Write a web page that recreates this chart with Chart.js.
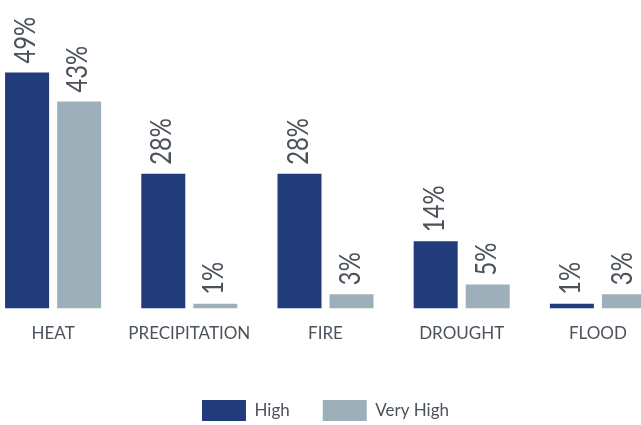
<!DOCTYPE html>
<html>
<head>
<meta charset="utf-8">
<script src="https://cdn.jsdelivr.net/npm/chart.js@4/dist/chart.umd.min.js"></script>
<style>
    html, body { margin: 0; padding: 0; background: #fff; overflow: hidden; }
    body { width: 641px; height: 425px; position: relative; }
    /* canvas runs a little past the page edges so the outer groups sit near the border */
    #wrap { position: absolute; left: -15px; top: 0; width: 681px; height: 431px; }
</style>
</head>
<body>
<div id="wrap"><canvas id="risk-chart"></canvas></div>
<script>
var categories = ['HEAT', 'PRECIPITATION', 'FIRE', 'DROUGHT', 'FLOOD'];
var highValues = [49, 28, 28, 14, 1];
var veryHighValues = [43, 1, 3, 5, 3];
var seriesNames = ['High', 'Very High'];

var textColor = '#4b525b';

// writes the percentage upright above each bar, slightly condensed
var barValueLabels = {
    id: 'barValueLabels',
    afterDatasetsDraw: function (chart) {
        var ctx = chart.ctx;
        ctx.save();
        ctx.fillStyle = textColor;
        ctx.font = '28px Lato';
        ctx.textAlign = 'left';
        ctx.textBaseline = 'middle';
        chart.data.datasets.forEach(function (ds, i) {
            var meta = chart.getDatasetMeta(i);
            meta.data.forEach(function (bar, j) {
                ctx.save();
                ctx.translate(bar.x - 1, bar.y - 9);
                ctx.rotate(-Math.PI / 2);
                ctx.scale(0.85, 1);
                ctx.fillText(ds.data[j] + '%', 0, 0);
                ctx.restore();
            });
        });
        ctx.restore();
    }
};

new Chart(document.getElementById('risk-chart').getContext('2d'), {
    type: 'bar',
    data: {
        labels: categories,
        datasets: [
            {
                label: seriesNames[0],
                data: highValues,
                backgroundColor: '#223b7b'
            },
            {
                label: seriesNames[1],
                data: veryHighValues,
                backgroundColor: '#9db0ba'
            }
        ]
    },
    options: {
        responsive: true,
        maintainAspectRatio: false,
        animation: false,
        layout: {
            padding: { top: 10, left: 0, right: 0, bottom: 0 }
        },
        datasets: {
            bar: {
                categoryPercentage: 0.764,
                barPercentage: 0.846
            }
        },
        scales: {
            x: {
                grid: { display: false },
                border: { display: false },
                ticks: {
                    color: textColor,
                    font: { family: 'Lato', size: 17 },
                    padding: 7,
                    maxRotation: 0,
                    autoSkip: false
                },
                afterFit: function (scale) {
                    scale.height += 16;
                }
            },
            y: {
                display: false,
                min: 0,
                max: 62
            }
        },
        plugins: {
            legend: {
                position: 'bottom',
                labels: {
                    color: textColor,
                    font: { family: 'Lato', size: 17 },
                    boxWidth: 44,
                    boxHeight: 21,
                    padding: 33
                }
            },
            tooltip: { enabled: false }
        }
    },
    plugins: [barValueLabels]
});
</script>
</body>
</html>
